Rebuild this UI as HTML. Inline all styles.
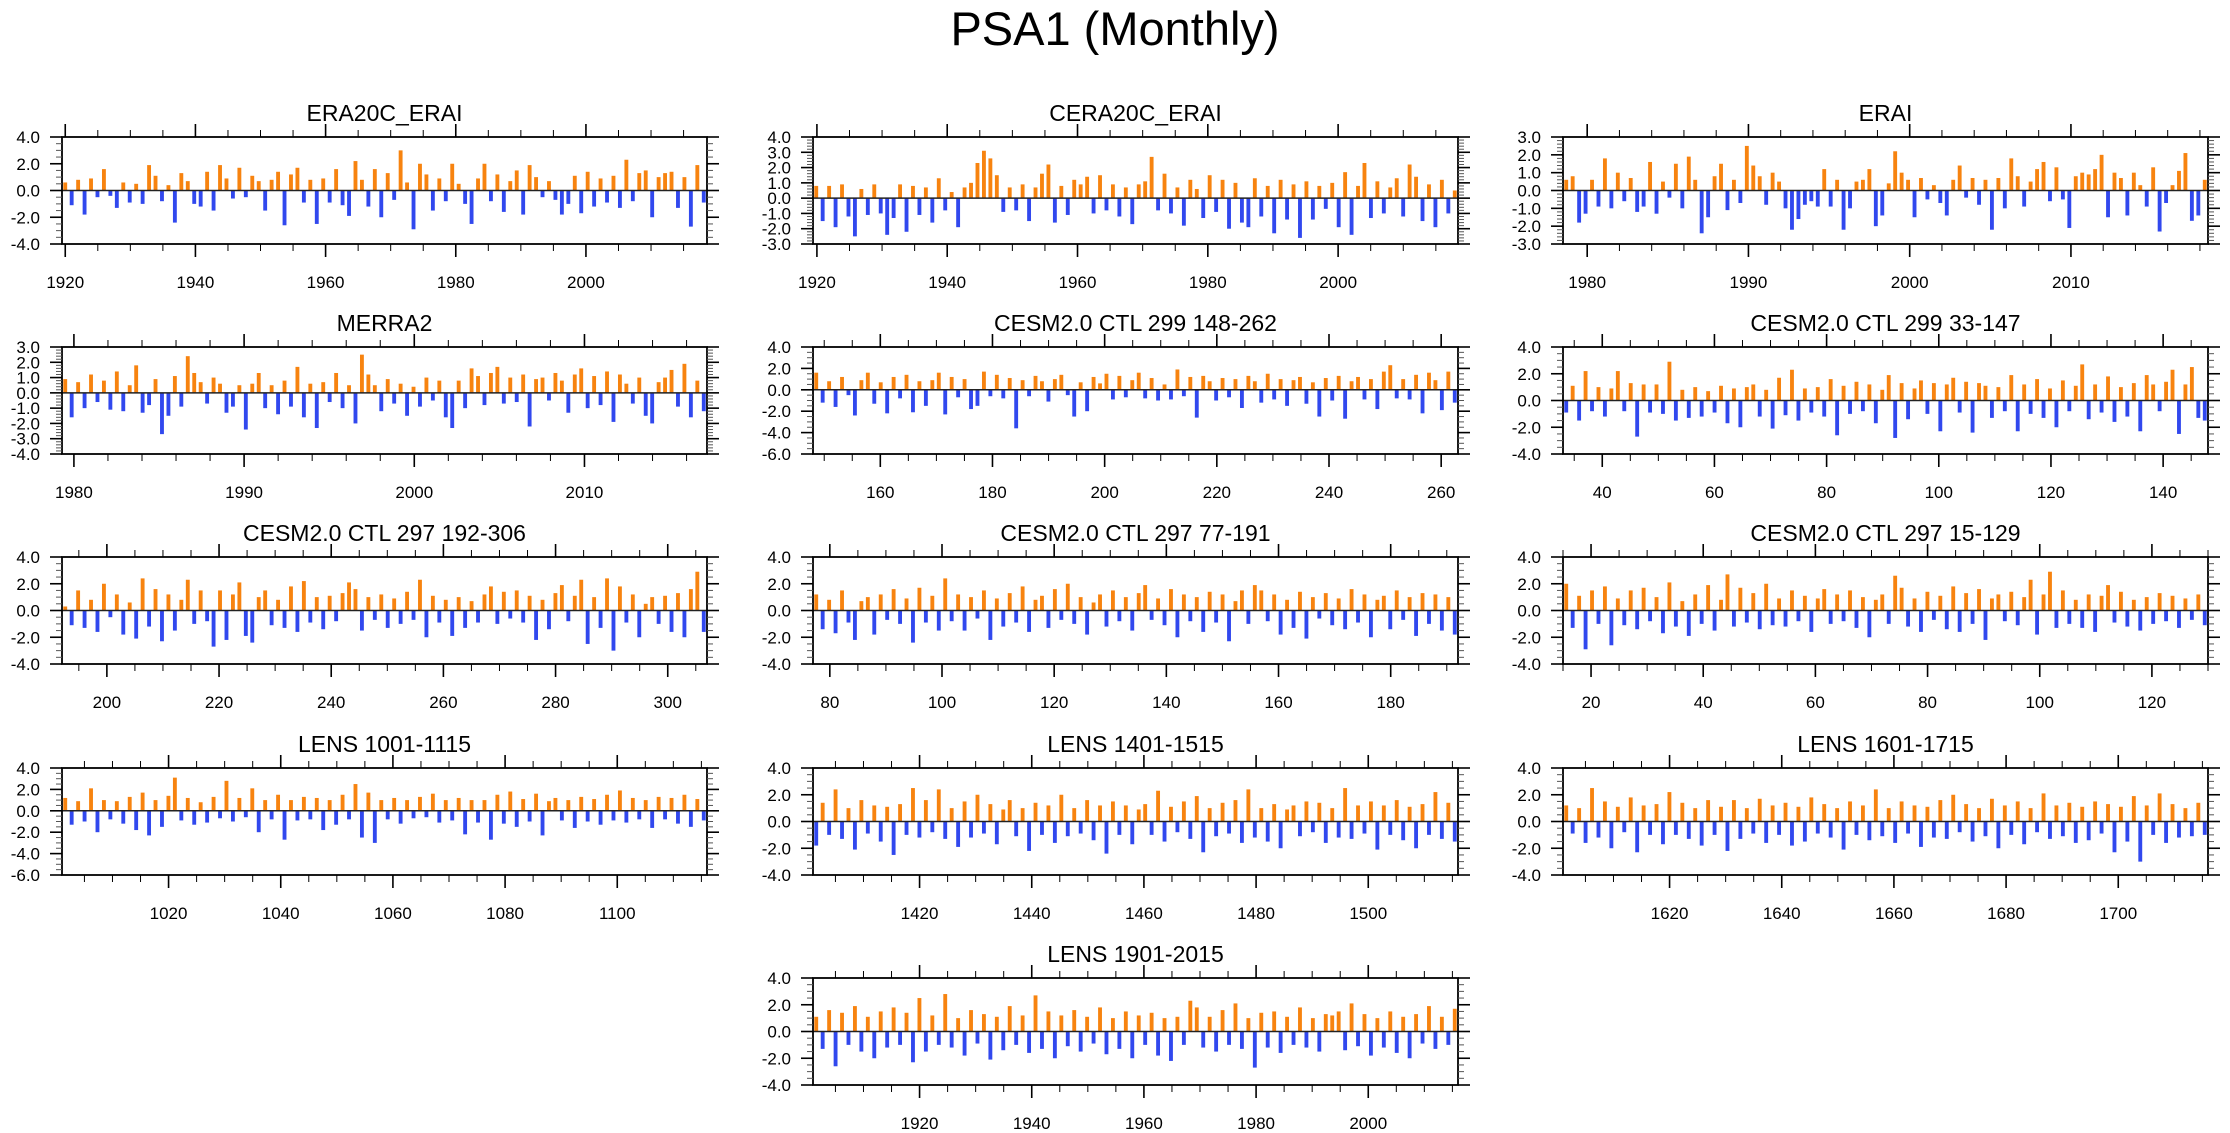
<!DOCTYPE html>
<html><head><meta charset="utf-8">
<style>
html,body{margin:0;padding:0;background:#fff;}
svg{display:block;font-family:"Liberation Sans",sans-serif;}
</style></head>
<body>
<svg id="chart" width="2230" height="1133" viewBox="0 0 2230 1133">
<text x="1115" y="45" text-anchor="middle" font-size="47" fill="#000">PSA1 (Monthly)</text>
</svg>
<script>
const era20cVals=[0.6,-1.1,0.8,-1.8,0.9,-0.5,1.6,-0.4,-1.3,0.6,-0.9,0.5,-1.0,1.9,1.1,-0.8,0.4,-2.4,1.3,0.7,-1.0,-1.2,1.4,-1.5,1.9,0.9,-0.6,1.7,-0.5,1.1,0.7,-1.5,0.8,1.4,-2.6,1.2,1.7,-0.9,0.8,-2.5,0.9,-0.9,1.6,-1.1,-1.9,2.2,0.8,-1.2,1.6,-2.0,1.3,-0.7,3.0,0.6,-2.9,2.0,1.2,-1.5,0.9,-0.8,2.0,0.5,-1.0,-2.5,0.9,2.0,-0.8,1.2,-1.6,0.7,1.5,-1.8,1.9,1.0,-0.5,0.7,-0.7,-1.8,-1.0,1.1,-1.7,1.4,-1.2,0.9,-0.9,1.1,-1.3,2.3,-0.8,1.3,1.5,-2.0,1.0,1.3,1.4,-1.3,1.0,-2.7,1.9,-0.9];
const cera20cVals=[0.8,-1.5,0.8,-1.9,0.9,-1.2,-2.5,0.6,-1.1,0.9,-1.0,-2.4,-1.3,0.9,-2.2,0.8,-1.1,0.7,-1.6,1.3,-0.8,0.4,-1.9,0.7,1.0,2.3,3.1,2.6,1.5,-0.9,0.7,-0.8,0.9,-1.5,0.7,1.6,2.2,-1.6,0.8,-1.1,1.2,0.9,1.4,-1.0,1.5,-0.8,0.9,-1.2,0.7,-1.7,0.9,1.1,2.7,-0.8,1.6,-1.0,0.7,-1.8,1.2,0.6,-1.3,1.5,-0.9,1.2,-2.0,1.0,-1.6,-1.9,1.3,-1.2,0.8,-2.3,1.2,-1.4,0.9,-2.6,1.1,-1.4,0.8,-0.7,1.0,-1.9,1.7,-2.4,0.8,2.3,-1.3,1.1,-1.0,0.7,1.3,-1.2,2.2,1.4,-1.5,0.9,-1.9,1.2,-1.0,0.5];
const eraiVals=[0.6,0.8,-1.8,-1.3,0.6,-0.9,1.8,-1.0,1.0,-0.6,0.7,-1.2,-0.9,1.6,-1.3,0.5,-0.4,1.5,-1.0,1.9,0.6,-2.4,-1.5,0.8,1.5,-1.1,0.6,-0.7,2.5,1.4,0.8,-0.8,1.0,0.5,-1.0,-2.2,-1.6,-0.8,-0.6,-0.9,1.2,-0.9,0.6,-2.2,-1.0,0.5,0.6,1.2,-2.0,-1.4,0.4,2.2,1.0,0.6,-1.5,0.7,-0.5,0.3,-0.7,-1.4,0.6,1.4,-0.4,0.7,-0.8,0.6,-2.2,0.7,-1.0,1.8,0.8,-0.9,0.5,1.2,1.6,-0.6,1.3,-0.5,-2.1,0.8,1.0,0.9,1.2,2.0,-1.5,1.0,0.7,-1.4,1.0,0.3,-0.9,1.3,-2.3,-0.7,0.3,1.1,2.1,-1.7,-1.4,0.6];
const merra2Vals=[0.9,-1.6,0.7,-1.0,1.2,-0.6,0.8,-1.1,1.4,-1.2,0.5,1.8,-1.3,-0.8,0.9,-2.7,-1.5,1.1,-0.9,2.4,1.3,0.7,-0.7,1.0,0.6,-1.3,-0.9,0.5,-2.4,0.6,1.3,-1.0,0.5,-1.4,0.8,-0.9,1.7,-1.6,0.6,-2.3,0.7,-0.6,1.3,-1.0,0.5,-2.0,2.5,1.2,0.5,-1.2,0.9,-0.7,0.6,-1.5,0.4,-0.9,1.0,-0.5,0.8,-1.6,-2.3,0.8,-1.0,1.6,1.1,-0.8,1.3,1.7,-0.7,1.0,-0.6,1.2,-2.2,0.9,1.0,-0.5,1.3,0.8,-1.3,1.2,1.6,-1.0,1.1,-0.8,1.4,-1.9,1.2,0.6,-0.7,1.0,-1.5,-2.0,0.7,1.0,1.5,-0.9,1.9,-1.6,0.8,-1.2];
const c299aVals=[1.6,-1.2,0.8,-1.6,1.2,-0.5,-2.4,0.9,1.6,-1.3,0.7,-2.2,1.2,-0.8,1.4,-2.1,0.8,-1.5,0.9,1.6,-2.3,1.2,-0.7,1.0,-1.8,-1.5,1.7,-0.6,1.4,-0.8,1.1,-3.6,0.9,-0.6,1.3,0.8,-1.1,1.0,1.4,-0.5,-2.5,0.7,-2.0,1.2,0.6,1.5,-0.9,1.3,-0.7,0.9,1.6,-0.8,1.1,-1.0,0.5,-0.9,1.9,-0.6,1.2,-2.6,1.3,0.8,-1.0,1.1,-0.7,1.0,-1.7,1.3,0.8,-1.2,1.5,-0.9,1.0,-1.5,0.9,1.2,-1.3,0.7,-2.5,1.1,-1.0,1.3,-2.7,0.8,1.2,-0.9,1.0,-1.8,1.7,2.3,-0.8,1.0,-0.9,1.4,-2.2,1.6,0.9,-1.9,1.7,-1.2];
const c299bVals=[-0.9,1.1,-1.5,2.2,-0.8,1.0,-1.2,0.9,2.2,-0.8,1.3,-2.7,1.2,-0.9,1.2,-1.0,2.9,-1.5,0.8,-1.3,1.0,-1.2,0.7,-0.9,1.1,-1.7,0.9,-2.0,1.0,1.2,-1.2,0.8,-2.1,1.7,-1.1,2.3,-1.5,0.9,-0.9,1.0,-1.2,1.6,-2.6,1.1,-1.0,1.4,-0.8,1.2,-1.7,0.8,1.9,-2.8,1.3,-1.4,0.9,1.5,-1.0,1.3,-2.3,1.2,1.7,-0.9,1.4,-2.4,1.3,1.1,-1.3,1.0,-0.8,1.9,-2.3,1.2,-1.0,1.6,-1.3,0.9,-2.0,1.5,-0.8,1.1,2.7,-1.4,1.2,-0.9,1.8,-1.6,1.0,-1.2,1.3,-2.3,1.9,1.2,-0.8,1.4,2.3,-2.5,1.2,2.5,-1.3,-1.5];
const c297aVals=[0.3,-1.1,1.5,-1.3,0.8,-1.6,2.0,-0.5,1.2,-1.8,0.6,-2.1,2.4,-1.2,1.6,-2.3,1.2,-1.5,0.8,2.3,-1.0,1.5,-0.8,-2.7,1.5,-2.2,1.2,2.1,-1.9,-2.4,1.0,1.5,-1.1,0.8,-1.3,1.8,-1.6,2.2,-0.9,1.0,-1.4,1.1,-0.8,1.3,2.1,1.6,-1.5,1.0,-0.7,1.2,-1.3,0.9,-1.0,1.4,-0.7,2.3,-2.0,1.1,-0.9,0.8,-1.9,1.0,-1.3,0.7,-0.9,1.2,1.8,-1.0,1.4,-0.6,1.5,-0.9,1.1,-2.2,0.8,-1.4,1.3,1.9,-0.8,1.1,2.3,-2.5,1.0,-1.3,2.4,-3.0,1.8,-0.9,1.2,-2.0,0.5,1.0,-1.0,1.1,-1.6,1.3,-2.0,1.6,2.9,-1.6];
const c297bVals=[1.2,-1.4,0.8,-1.7,1.5,-0.9,-2.2,0.7,1.0,-1.8,1.2,-0.7,1.6,-1.0,0.9,-2.4,1.7,-0.9,1.1,-1.5,2.4,-0.8,1.2,-1.5,1.0,-0.6,1.5,-2.2,0.9,-1.2,1.3,-0.9,1.8,-1.6,0.8,1.1,-1.3,1.6,-0.7,2.0,-1.0,1.0,-1.8,0.6,1.2,-1.2,1.5,-0.8,1.0,-1.5,1.3,1.9,-0.7,0.9,-1.1,1.6,-2.0,1.2,-0.8,1.0,-1.6,1.4,-0.9,1.2,-2.3,0.7,1.5,-1.0,1.9,1.5,-0.8,1.2,-1.8,0.8,-1.3,1.4,-2.1,1.0,-0.6,1.3,-1.1,0.9,-1.4,1.6,-0.9,1.2,-2.0,0.8,1.1,-1.4,1.5,-0.7,1.0,-1.9,1.3,-1.0,1.2,-1.5,1.0,-1.8];
const c297cVals=[2.0,-1.3,1.1,-2.9,1.5,-1.0,1.8,-2.6,0.9,-1.1,1.5,-1.4,1.7,-0.8,1.0,-1.7,2.1,-1.2,0.7,-1.9,1.2,-1.0,1.9,-1.5,0.8,2.7,-1.2,1.7,-0.9,1.3,-1.4,2.0,-1.1,0.9,-1.2,1.5,-0.8,1.1,-1.6,0.9,1.6,-1.0,1.2,-0.8,1.5,-1.3,1.0,-2.0,0.8,1.2,-1.0,2.6,1.7,-1.2,0.9,-1.6,1.4,-0.7,1.1,-1.4,1.8,-1.6,1.3,-1.0,1.6,-2.2,0.9,1.2,-0.8,1.4,-1.1,1.0,2.3,-1.8,1.2,2.9,-1.3,1.5,-1.0,0.8,-1.3,1.2,-1.6,1.1,1.9,-0.9,1.4,-1.2,0.8,-1.5,1.0,-1.0,1.3,-0.8,1.1,-1.3,0.9,-0.7,1.2,-1.1];
const lens1001Vals=[1.2,-1.3,0.9,-1.0,2.1,-2.0,1.0,-0.8,0.9,-1.2,1.3,-1.8,1.7,-2.3,1.0,-1.5,1.4,3.1,-0.9,1.2,-1.3,0.8,-1.1,1.3,-0.7,2.8,-1.0,1.2,-0.6,2.1,-2.0,1.0,-0.8,1.5,-2.7,1.0,-0.9,1.3,-0.8,1.2,-1.8,1.0,-1.3,1.5,-0.8,2.5,-2.5,1.7,-3.0,1.0,-0.8,1.2,-1.2,1.0,-0.7,1.3,-0.6,1.6,-1.1,1.0,-0.9,1.2,-2.2,1.0,-1.1,1.0,-2.7,1.5,-1.2,1.8,-1.5,1.1,-1.0,1.6,-2.3,0.9,1.2,-0.9,1.0,-1.6,1.3,-1.0,1.1,-1.3,1.5,-0.9,1.9,-1.1,1.2,-0.8,1.0,-1.6,1.3,-0.8,1.2,-1.2,1.5,-1.5,1.1,-0.9];
const lens1401Vals=[-1.8,1.4,-1.0,2.4,-1.3,1.0,-2.1,1.6,-0.9,1.2,-1.5,1.1,-2.5,1.3,-1.0,2.5,-1.2,1.6,-0.8,2.4,-1.3,1.0,-1.9,1.5,-1.2,2.0,-0.9,1.3,-1.7,0.9,1.6,-1.1,1.0,-2.2,1.4,-1.0,1.2,-1.6,2.0,-1.1,1.0,-0.9,1.6,-1.4,1.2,-2.4,1.5,-1.0,1.2,-1.7,0.9,1.3,-1.0,2.3,-1.5,1.1,-0.8,1.5,-1.3,1.9,-2.3,1.0,-1.1,1.4,-0.9,1.6,-1.6,2.4,-1.2,1.0,-1.5,1.3,-2.0,0.9,1.2,-1.1,1.5,-0.8,1.4,-1.6,1.0,-1.2,2.5,-1.3,1.2,-0.9,1.5,-2.1,1.2,-1.0,1.6,-1.4,1.1,-2.0,1.3,-1.0,2.2,-1.3,1.4,-1.5];
const lens1601Vals=[1.2,-0.9,1.0,-1.6,2.5,-1.2,1.5,-2.0,1.1,-0.8,1.8,-2.3,1.2,-1.0,1.3,-1.7,2.2,-1.0,1.4,-1.3,1.0,-1.8,1.6,-1.0,1.1,-2.2,1.6,-1.3,1.0,-0.9,1.7,-1.6,1.2,-1.0,1.4,-1.8,1.1,-1.5,1.8,-0.9,1.3,-1.2,1.0,-2.1,1.5,-1.0,1.2,-1.4,2.4,-1.1,1.0,-1.6,1.5,-0.9,1.2,-1.9,1.1,-1.2,1.6,-1.3,2.0,-0.8,1.3,-1.5,1.0,-1.1,1.7,-2.0,1.2,-1.0,1.5,-1.7,1.0,-0.8,2.1,-1.3,1.2,-1.1,1.4,-1.6,1.1,-1.4,1.5,-0.9,1.3,-2.3,1.1,-1.5,1.9,-3.0,1.2,-1.0,2.1,-1.6,1.3,-1.2,1.0,-1.1,1.4,-1.0];
const lens1901Vals=[1.1,-1.3,1.6,-2.6,1.4,-1.0,1.9,-1.5,1.1,-2.0,1.5,-1.2,1.8,-1.0,1.4,-2.3,2.5,-1.5,1.2,-1.0,2.8,-1.2,1.0,-1.8,1.6,-0.9,1.3,-2.1,1.1,-1.4,1.9,-1.0,1.2,-1.6,2.7,-1.3,1.5,-2.0,1.2,-1.1,1.6,-1.5,1.1,-0.9,1.8,-1.7,1.0,-1.3,1.5,-2.0,1.2,-1.0,1.4,-1.8,1.0,-2.2,1.1,-1.0,2.3,1.8,-1.2,1.1,-1.5,1.6,-1.0,2.1,-1.3,1.0,-2.7,1.4,-1.2,1.5,-1.6,1.1,-1.0,1.8,-1.2,1.0,-1.5,1.3,1.2,1.5,-1.4,2.1,-1.1,1.3,-1.8,1.0,-1.2,1.5,-1.6,1.1,-2.0,1.3,-0.9,1.9,-1.3,1.1,-1.0,1.7];

const panelTitles=["ERA20C_ERAI","CERA20C_ERAI","ERAI","MERRA2","CESM2.0 CTL 299 148-262","CESM2.0 CTL 299 33-147","CESM2.0 CTL 297 192-306","CESM2.0 CTL 297 77-191","CESM2.0 CTL 297 15-129","LENS 1001-1115","LENS 1401-1515","LENS 1601-1715","LENS 1901-2015"];
const panelSeries=[era20cVals,cera20cVals,eraiVals,merra2Vals,c299aVals,c299bVals,c297aVals,c297bVals,c297cVals,lens1001Vals,lens1401Vals,lens1601Vals,lens1901Vals];
const xRanges=[[1919.5,2018.6],[1919.4,2018.4],[1978.5,2018.5],[1979.3,2017.2],[148,263],[33,148],[192,307],[77,192],[15,130],[1001,1116],[1401,1516],[1601,1716],[1901,2016]];
const xMajorTicks=[[1920,1940,1960,1980,2000],[1920,1940,1960,1980,2000],[1980,1990,2000,2010],[1980,1990,2000,2010],[160,180,200,220,240,260],[40,60,80,100,120,140],[200,220,240,260,280,300],[80,100,120,140,160,180],[20,40,60,80,100,120],[1020,1040,1060,1080,1100],[1420,1440,1460,1480,1500],[1620,1640,1660,1680,1700],[1920,1940,1960,1980,2000]];
const xMinorSteps=[5,5,2,2,5,5,5,5,5,5,5,5,5];
const yRanges=[[-4,4],[-3,4],[-3,3],[-4,3],[-6,4],[-4,4],[-4,4],[-4,4],[-4,4],[-6,4],[-4,4],[-4,4],[-4,4]];
const yLabelSteps=[2,1,1,1,2,2,2,2,2,2,2,2,2];

const NS="http://www.w3.org/2000/svg";
const svg=document.getElementById('chart');
const colLeft=[62,813,1563], rowTop=[137,347,557,768,978];
const PW=645, PH=107;
const panelPos=[[0,0],[1,0],[2,0],[0,1],[1,1],[2,1],[0,2],[1,2],[2,2],[0,3],[1,3],[2,3],[1,4]];
function mk(tag,attrs,parent){const e=document.createElementNS(NS,tag);for(const k in attrs)e.setAttribute(k,attrs[k]);parent.appendChild(e);return e;}

panelSeries.forEach((vals,i)=>{
  const L=colLeft[panelPos[i][0]], T=rowTop[panelPos[i][1]], R=L+PW, B=T+PH;
  const [x0,x1]=xRanges[i], [y0,y1]=yRanges[i];
  const xs=v=>L+(v-x0)/(x1-x0)*PW;
  const ys=v=>B-(v-y0)/(y1-y0)*PH;
  const g=mk('g',{},svg);
  
  
  const t=mk('text',{x:(L+R)/2,y:T-16,'text-anchor':'middle','font-size':23,fill:'#000'},g);
  t.textContent=panelTitles[i];
  
  
  const bars=mk('g',{},g);
  
  
  const n=vals.length, slot=(x1-x0)/n;
  const bw=PW/n*0.6;
  vals.forEach((v,k)=>{
    const cx=xs(x0+slot*(k+0.5));
    const yv=ys(v), y0p=ys(0);
    const r=mk('rect',{x:cx-bw/2,y:Math.min(yv,y0p),width:bw,height:Math.abs(yv-y0p),fill:v>=0?'#f7830f':'#3148ee'},bars);
    
    
  });
  const z=mk('line',{x1:L,x2:R,y1:ys(0),y2:ys(0),stroke:'#222','stroke-width':1.5},g);
  
  
  const f=mk('rect',{x:L,y:T,width:PW,height:PH,fill:'none',stroke:'#000','stroke-width':1.8},g);
  
  
  const step=xMinorSteps[i];
  for(let v=Math.ceil(x0/step)*step; v<=x1; v+=step){
    const major=xMajorTicks[i].includes(v);
    const len=major?13:7, x=xs(v);
    mk('line',{x1:x,x2:x,y1:T,y2:T-len,stroke:'#000','stroke-width':major?1.6:1},g);
    mk('line',{x1:x,x2:x,y1:B,y2:B+len,stroke:'#000','stroke-width':major?1.6:1},g);
  }
  xMajorTicks[i].forEach(v=>{
    const tl=mk('text',{x:xs(v),y:B+44,'text-anchor':'middle','font-size':17,fill:'#000'},g);
    tl.textContent=String(v);
    
    
  });
  const ls=yLabelSteps[i], minor=ls===2?0.5:0.2;
  for(let v=y0; v<=y1+1e-6; v+=minor){
    const vv=Math.round(v*10)/10;
    const major=Math.abs(vv/ls-Math.round(vv/ls))<1e-6;
    const len=major?12:6, y=ys(vv);
    mk('line',{x1:L,x2:L-len,y1:y,y2:y,stroke:major?'#000':'#555','stroke-width':major?1.6:1},g);
    mk('line',{x1:R,x2:R+len,y1:y,y2:y,stroke:major?'#000':'#555','stroke-width':major?1.6:1},g);
  }
  for(let v=y0; v<=y1+1e-6; v+=ls){
    const yl=mk('text',{x:L-22,y:ys(v)+6,'text-anchor':'end','font-size':17,fill:'#000'},g);
    yl.textContent=v.toFixed(1);
    
    
  }
});
</script>
</body></html>
